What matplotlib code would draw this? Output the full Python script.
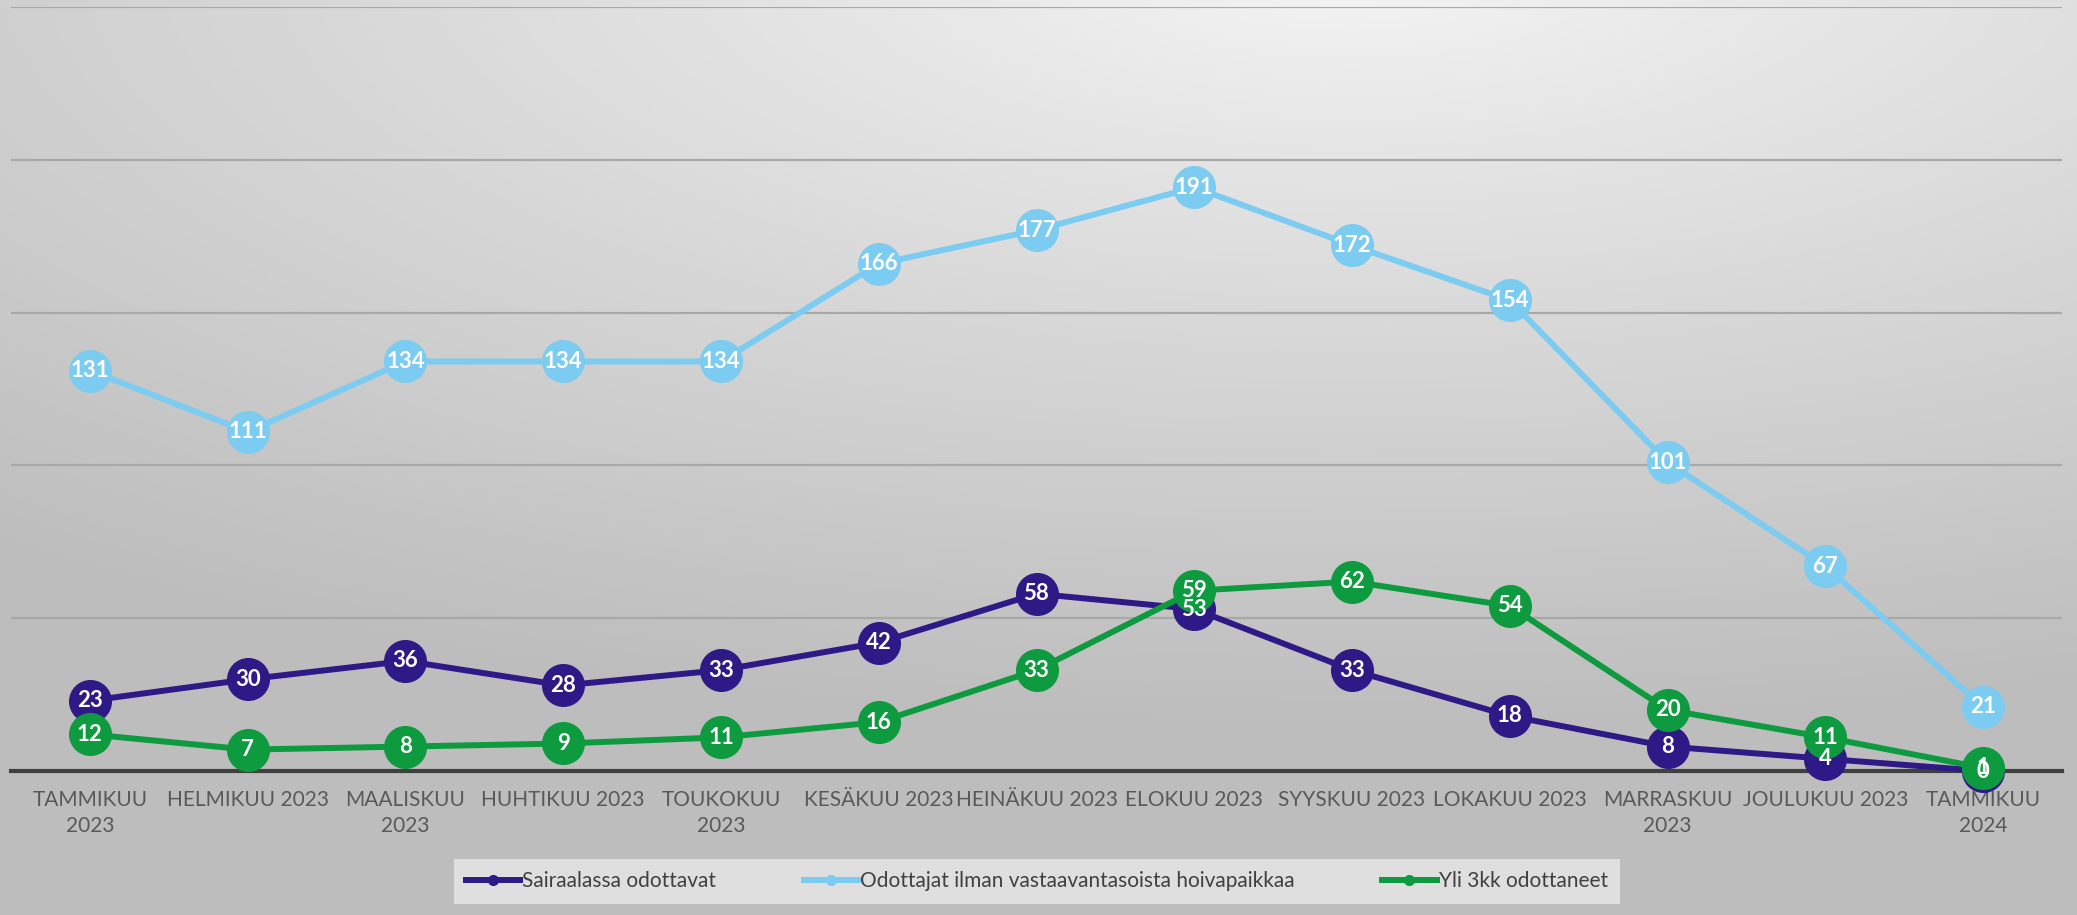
import numpy as np
import matplotlib.pyplot as plt
from matplotlib.lines import Line2D

plt.rcParams['font.family'] = ['Lato', 'DejaVu Sans']

kuukaudet = ['TAMMIKUU\n2023', 'HELMIKUU 2023', 'MAALISKUU\n2023', 'HUHTIKUU 2023',
             'TOUKOKUU\n2023', 'KESÄKUU 2023', 'HEINÄKUU 2023', 'ELOKUU 2023',
             'SYYSKUU 2023', 'LOKAKUU 2023', 'MARRASKUU\n2023', 'JOULUKUU 2023',
             'TAMMIKUU\n2024']
sairaalassa = [23, 30, 36, 28, 33, 42, 58, 53, 33, 18, 8, 4, 0]
ilman_paikkaa = [131, 111, 134, 134, 134, 166, 177, 191, 172, 154, 101, 67, 21]
yli_3kk = [12, 7, 8, 9, 11, 16, 33, 59, 62, 54, 20, 11, 1]

sarjat = [
    ('Sairaalassa odottavat', sairaalassa, '#2e1a87'),
    ('Odottajat ilman vastaavantasoista hoivapaikkaa', ilman_paikkaa, '#7ccbf0'),
    ('Yli 3kk odottaneet', yli_3kk, '#0e9a3e'),
]

fig = plt.figure(figsize=(20.77, 9.15), dpi=100)

# taustan liukuväri
bg = fig.add_axes([0, 0, 1, 1])
yy, xx = np.mgrid[0:1:300j, 0:1:600j]
r = np.sqrt(((xx - 0.65) * 1.0) ** 2 + ((yy + 0.05) * 1.2) ** 2)
r = np.clip(r / 1.0, 0, 1)
val = 0.965 - 0.22 * r ** 0.9
bg.imshow(np.dstack([val, val, val]), extent=[0, 1, 0, 1], origin='upper', aspect='auto')
bg.axis('off')

ax = fig.add_axes([11 / 2077, 144 / 915, 2051 / 2077, 764 / 915])
ax.set_facecolor('none')
x = np.arange(len(kuukaudet))

for nimi, arvot, vari in sarjat:
    ax.plot(x, arvot, color=vari, lw=4.3, marker='o', markersize=31,
            markeredgewidth=0, solid_capstyle='round', clip_on=False, zorder=3)

for nimi, arvot, vari in sarjat:
    for xi, v in zip(x, arvot):
        ax.text(xi, v, str(v), ha='center', va='center', color='white',
                fontsize=16, fontweight='bold', zorder=5)

ax.set_xlim(-0.5, len(kuukaudet) - 0.5)
ax.set_ylim(0, 250)
ax.set_yticks([50, 100, 150, 200, 250])
ax.yaxis.grid(True, color='#a8a8a8', lw=1.6)
ax.set_axisbelow(True)
ax.tick_params(axis='y', left=False, labelleft=False)
ax.tick_params(axis='x', length=0, pad=14, labelsize=15, labelcolor='#595959')
ax.set_xticks(x)
ax.set_xticklabels(kuukaudet, linespacing=1.35)
for s in ['top', 'right', 'left']:
    ax.spines[s].set_visible(False)
ax.spines['bottom'].set_color('#404040')
ax.spines['bottom'].set_linewidth(3)
ax.spines['bottom'].set_zorder(2)

kahvat = [Line2D([0], [0], color=vari, lw=4.3, marker='o', markersize=7) for _, _, vari in sarjat]
leg = fig.legend(kahvat, [s[0] for s in sarjat], loc='center',
                 bbox_to_anchor=(1037 / 2077, 1 - 881 / 915), ncol=3, frameon=True,
                 fontsize=15, handlelength=2.6, handletextpad=0.1, columnspacing=4.2,
                 borderpad=0.6, fancybox=False)
leg.get_frame().set_facecolor('#e3e3e3')
leg.get_frame().set_edgecolor('none')
leg.get_frame().set_alpha(0.9)
for t in leg.get_texts():
    t.set_color('#404040')

fig.savefig('out.png', dpi=100)
